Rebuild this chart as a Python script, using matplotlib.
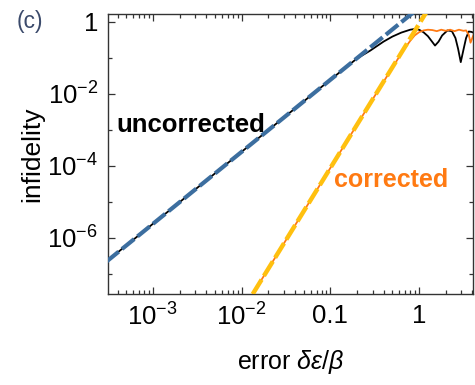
import numpy as np
import matplotlib
matplotlib.use("Agg")
import matplotlib.pyplot as plt
from matplotlib.ticker import LogLocator, FixedLocator, FixedFormatter, NullFormatter

plt.rcParams['font.family'] = ['Liberation Sans', 'DejaVu Sans']
plt.rcParams['mathtext.fontset'] = 'custom'
plt.rcParams['mathtext.rm'] = 'Liberation Sans'
plt.rcParams['mathtext.it'] = 'Liberation Sans:italic'

# Quadratic (uncorrected) and quartic (corrected) asymptotes
uncorr_fit_x = [3.0e-4, 1.0]
uncorr_fit_y = [2.2e-7, 2.45]
corr_fit_x = [1.0e-2, 1.2]
corr_fit_y = [8.7e-9, 1.8]

# Exact infidelity, uncorrected pulse (log10 values)
uncorr_logx = [-3.55, -3.0, -2.0, -1.0, -0.7, -0.55, -0.4, -0.3, -0.2, -0.1, -0.05,
               0.0, 0.05, 0.1, 0.14, 0.18, 0.22, 0.26, 0.32, 0.37, 0.41, 0.44,
               0.47, 0.50, 0.53, 0.56, 0.59, 0.62]
uncorr_logy = [-6.71, -5.61, -3.61, -1.61, -1.02, -0.80, -0.55, -0.41, -0.30, -0.22, -0.20,
               -0.22, -0.29, -0.40, -0.53, -0.66, -0.55, -0.38, -0.24, -0.26, -0.45, -0.75,
               -1.12, -0.78, -0.45, -0.27, -0.28, -0.31]

# Exact infidelity, corrected pulse (log10 values)
corr_logx = [-1.92, -1.0, -0.5, -0.3, -0.2, -0.15, -0.1, -0.05, 0.0, 0.05, 0.1,
             0.15, 0.2, 0.25, 0.3, 0.35, 0.4, 0.45, 0.5, 0.53, 0.56, 0.58, 0.60, 0.62]
corr_logy = [-7.74, -4.06, -2.06, -1.27, -0.88, -0.70, -0.53, -0.38, -0.29, -0.24, -0.22,
             -0.23, -0.26, -0.22, -0.25, -0.22, -0.26, -0.22, -0.25, -0.24, -0.36, -0.58, -0.45, -0.32]

xtick_vals = [1e-3, 1e-2, 1e-1, 1.0]
xtick_labels = [r'$10^{-3}$', r'$10^{-2}$', '0.1', '1']
ytick_vals = [1e-6, 1e-4, 1e-2, 1.0]
ytick_labels = [r'$10^{-6}$', r'$10^{-4}$', r'$10^{-2}$', '1']

fig = plt.figure(figsize=(4.75, 3.85), dpi=100)
ax = fig.add_axes([0.227, 0.236, 0.769, 0.728])

blue = '#3C6E9F'
yellow = '#FFC00F'
orange = '#FF7A12'

ax.plot(10 ** np.array(uncorr_logx), 10 ** np.array(uncorr_logy), color='black', lw=1.3, zorder=2)
ax.plot(uncorr_fit_x, uncorr_fit_y, color=blue, lw=3.0, dashes=(3.8, 1.0), zorder=3)
ax.plot(10 ** np.array(corr_logx), 10 ** np.array(corr_logy), color=orange, lw=1.3, zorder=2)
ax.plot(corr_fit_x, corr_fit_y, color=yellow, lw=3.2, dashes=(3.8, 1.0), zorder=3)

ax.set_xscale('log')
ax.set_yscale('log')
ax.set_xlim(10 ** -3.507, 10 ** 0.609)
ax.set_ylim(10 ** -7.56, 10 ** 0.22)

ax.xaxis.set_major_locator(FixedLocator(xtick_vals))
ax.xaxis.set_major_formatter(FixedFormatter(xtick_labels))
ax.xaxis.set_minor_locator(LogLocator(base=10, subs=np.arange(2, 10), numticks=20))
ax.xaxis.set_minor_formatter(NullFormatter())

ax.yaxis.set_major_locator(FixedLocator(ytick_vals))
ax.yaxis.set_major_formatter(FixedFormatter(ytick_labels))
ax.yaxis.set_minor_locator(FixedLocator([1e-7, 1e-5, 1e-3, 1e-1]))
ax.yaxis.set_minor_formatter(NullFormatter())

ax.tick_params(which='both', direction='in', top=True, right=True, colors='#333333',
               labelcolor='black', labelsize=18.5, width=0.9)
ax.tick_params(which='major', length=5, pad=7)
ax.tick_params(which='minor', length=3)
for sp in ax.spines.values():
    sp.set_color('#333333')
    sp.set_linewidth(1.0)

ax.set_ylabel('infidelity', fontsize=19)
ax.yaxis.set_label_coords(-0.173, 0.5)
ax.set_xlabel('error $\\delta\\epsilon/\\beta$', fontsize=18, labelpad=12)

ax.text(10 ** -2.57, 10 ** -2.86, 'uncorrected', fontsize=18.5, fontweight='bold',
        color='black', ha='center', va='center')
ax.text(10 ** -0.316, 10 ** -4.40, 'corrected', fontsize=18, fontweight='bold',
        color=orange, ha='center', va='center')

fig.text(0.063, 0.945, '(c)', fontsize=16.5, color='#3B4A6B', ha='center', va='center')

fig.savefig('out.png', dpi=100)
